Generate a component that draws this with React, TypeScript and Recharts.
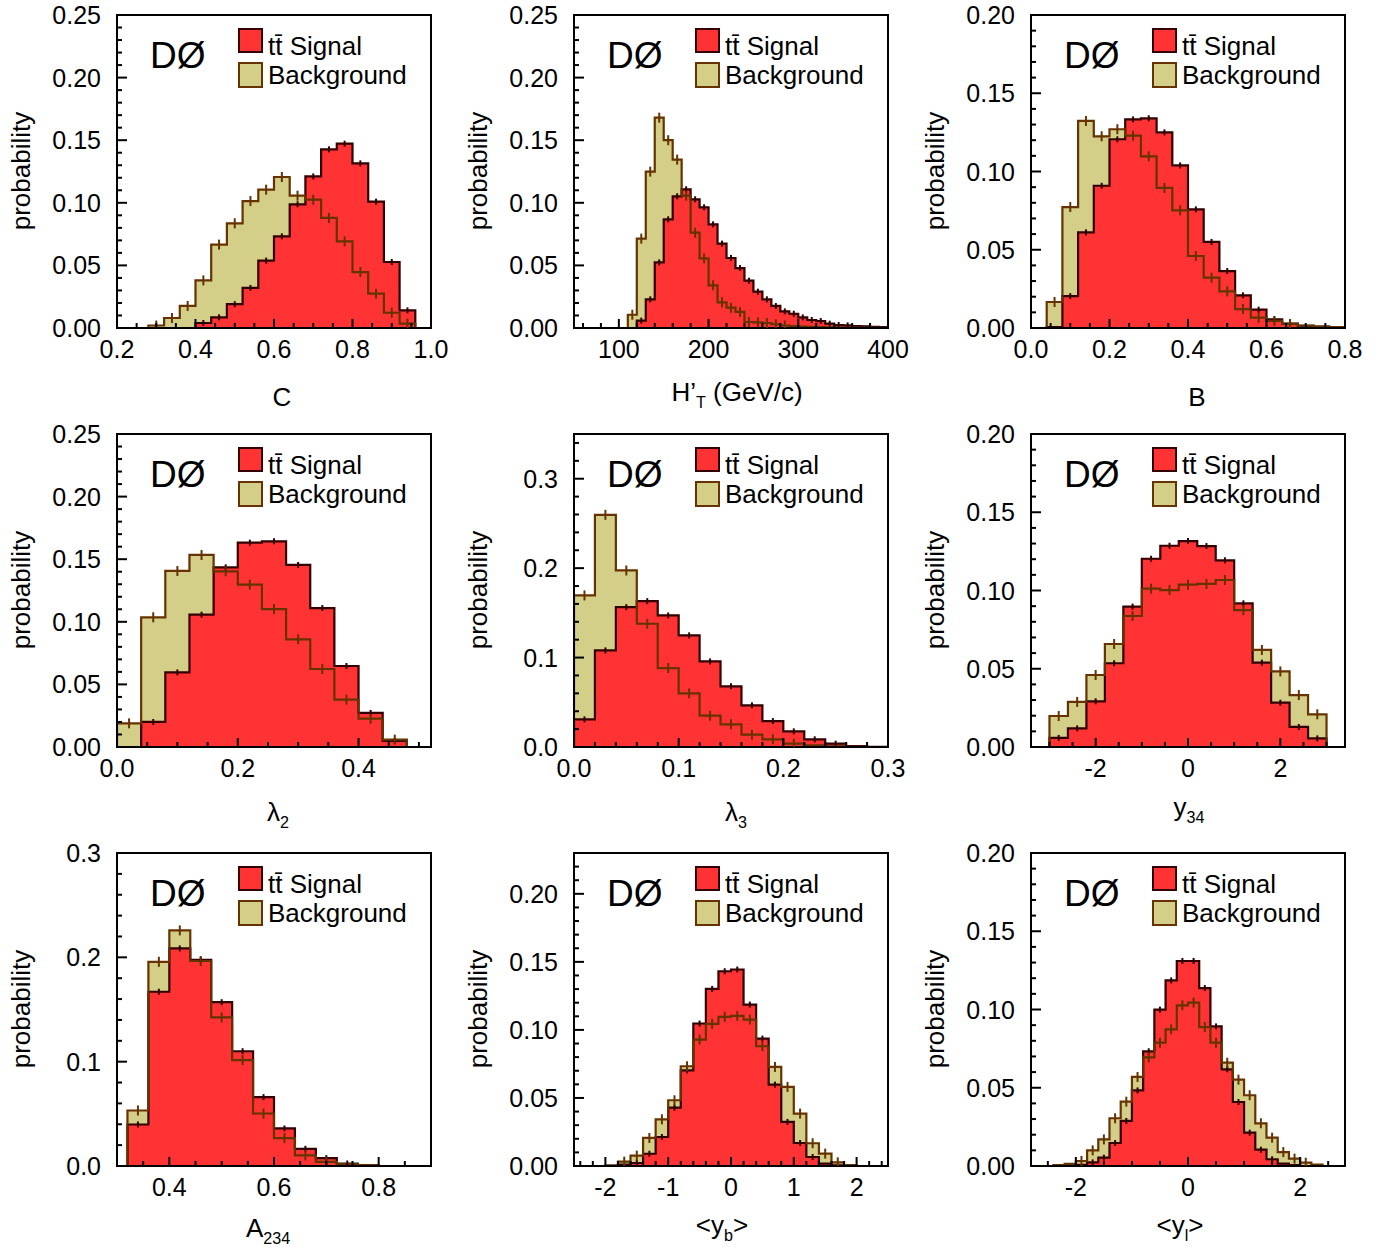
import { ComposedChart, Area, Line, Scatter, XAxis, YAxis, ReferenceArea } from "recharts";
import type { ReactNode } from "react";

const FONT = '"Liberation Sans", Arial, Helvetica, sans-serif';
const RED = "#ff3333";
const KHAKI = "#d4cf88";
const BROWN = "#663300";
const DARK = "#330000";

// C
const cSignal = [0, 0, 0, 0, 0, 0.004, 0.0085, 0.019, 0.032, 0.0538, 0.0732, 0.0988, 0.1211, 0.1427, 0.1472, 0.1315, 0.1009, 0.0527, 0.0141, 0];
const cBackground = [0, 0, 0.002, 0.008, 0.0176, 0.038, 0.0666, 0.0836, 0.1014, 0.1105, 0.1206, 0.1057, 0.1025, 0.0879, 0.0692, 0.0447, 0.0274, 0.0122, 0.0035, 0];
// H'T
const htSignal = [0, 0.0059, 0.0229, 0.0524, 0.0868, 0.1052, 0.1108, 0.1028, 0.0964, 0.0828, 0.0674, 0.0559, 0.0479, 0.0378, 0.029, 0.0229, 0.0176, 0.0133, 0.0114, 0.0085, 0.0064, 0.0056, 0.0035, 0.0024, 0.0021, 0.0016, 0.0013, 0.001, 0.0008];
const htBackground = [0.0106, 0.0714, 0.1249, 0.168, 0.15, 0.1345, 0.1057, 0.0761, 0.0556, 0.0341, 0.0205, 0.0162, 0.0128, 0.0048, 0.0045, 0.004, 0.003, 0.002, 0.0015, 0.0012, 0.001, 0.0008, 0.0006, 0.0005, 0.0004, 0.0003, 0.0002, 0.0002, 0.0001];
// B
const bSignal = [0, 0.0005, 0.0204, 0.0611, 0.0909, 0.1206, 0.1333, 0.134, 0.125, 0.1039, 0.0758, 0.055, 0.0364, 0.0209, 0.0117, 0.0055, 0.0028, 0.0013, 0.0009, 0.0004];
const bBackground = [0, 0.0166, 0.0773, 0.1323, 0.1225, 0.127, 0.1229, 0.1097, 0.0895, 0.0752, 0.046, 0.0322, 0.0234, 0.0121, 0.0066, 0.0045, 0.0026, 0.0015, 0.0009, 0.0006];
// lambda2
const l2Signal = [0, 0.02, 0.0596, 0.1057, 0.1435, 0.1632, 0.1643, 0.1454, 0.111, 0.0647, 0.0272, 0.0048, 0];
const l2Background = [0.0189, 0.1036, 0.1406, 0.1534, 0.1403, 0.1297, 0.1102, 0.086, 0.0623, 0.0378, 0.0226, 0.0059, 0];
// lambda3
const l3Signal = [0.0309, 0.108, 0.1564, 0.1631, 0.1471, 0.1248, 0.0957, 0.0678, 0.0466, 0.029, 0.0175, 0.0086, 0.0037, 0.0011, 0.0003];
const l3Background = [0.1695, 0.2596, 0.1974, 0.1378, 0.0883, 0.06, 0.035, 0.0253, 0.0138, 0.0086, 0.0037, 0.0019, 0.0007, 0.0002, 0];
// y34
const y34Signal = [0.0058, 0.0119, 0.0292, 0.0535, 0.0897, 0.1203, 0.1286, 0.1316, 0.1284, 0.1193, 0.0918, 0.0539, 0.0283, 0.0128, 0.0055];
const y34Background = [0.0198, 0.0288, 0.046, 0.0658, 0.0837, 0.1012, 0.1003, 0.1037, 0.1042, 0.1067, 0.0875, 0.062, 0.0483, 0.0332, 0.0209];
// A234
const aSignal = [0.0398, 0.167, 0.2085, 0.1975, 0.157, 0.11, 0.066, 0.036, 0.0165, 0.0075, 0.0024, 0.0008];
const aBackground = [0.0532, 0.1957, 0.2258, 0.1965, 0.1424, 0.1015, 0.0503, 0.0267, 0.0101, 0.004, 0.0018, 0.0008];
// <yb>
const ybSignal = [0, 0.001, 0.0022, 0.009, 0.0213, 0.0429, 0.0703, 0.1047, 0.1301, 0.1431, 0.1444, 0.1186, 0.0936, 0.0598, 0.0324, 0.0169, 0.0066, 0.0017, 0.0005, 0];
const ybBackground = [0.0005, 0.0032, 0.0076, 0.0206, 0.0343, 0.0483, 0.0733, 0.0929, 0.1044, 0.1096, 0.1103, 0.1076, 0.088, 0.0728, 0.0581, 0.0385, 0.0167, 0.0091, 0.0027, 0.0007];
// <yl>
const ylSignal = [0, 0, 0.0008, 0.0023, 0.0053, 0.0147, 0.0288, 0.0483, 0.0733, 0.0999, 0.1186, 0.131, 0.131, 0.1137, 0.0892, 0.0618, 0.0409, 0.0213, 0.0104, 0.0043, 0.0015, 0.0006, 0, 0];
const ylBackground = [0.0005, 0.0013, 0.0032, 0.01, 0.017, 0.0305, 0.0411, 0.0569, 0.0694, 0.0788, 0.0873, 0.1027, 0.1044, 0.0888, 0.0788, 0.066, 0.0552, 0.0452, 0.0273, 0.0181, 0.0089, 0.0047, 0.0021, 0.0009];

// labelled ticks
const cXLabels = [0.2, 0.4, 0.6, 0.8, 1.0];
const htXLabels = [100, 200, 300, 400];
const bXLabels = [0, 0.2, 0.4, 0.6, 0.8];
const l2XLabels = [0, 0.2, 0.4];
const l3XLabels = [0, 0.1, 0.2, 0.3];
const symXLabels = [-2, 0, 2];
const aXLabels = [0.4, 0.6, 0.8];
const ybXLabels = [-2, -1, 0, 1, 2];
const y25Labels = [0, 0.05, 0.1, 0.15, 0.2, 0.25];
const y20Labels = [0, 0.05, 0.1, 0.15, 0.2];
const y3Labels = [0, 0.1, 0.2, 0.3];

const steps = (from: number, to: number, step: number) => {
  const n = Math.round((to - from) / step);
  const out: number[] = [];
  for (let i = 0; i <= n; i++) out.push(Math.round((from + i * step) * 1e6) / 1e6);
  return out;
};

const isIn = (list: number[], v: number) => list.some((m) => Math.abs(m - v) < 1e-6);

const makeXTick = (labels: number[], digits: number) => (p: any) => {
  const v = p.payload.value;
  const major = isIn(labels, v);
  return (
    <g>
      <line x1={p.x} x2={p.x} y1={p.y} y2={p.y - (major ? 9 : 5)} stroke="#000" strokeWidth={2} />
      {major && (
        <text x={p.x} y={p.y + 30} textAnchor="middle" fontFamily={FONT} fontSize={25} fill="#000">
          {v.toFixed(digits)}
        </text>
      )}
    </g>
  );
};

const makeYTick = (labels: number[], digits: number) => (p: any) => {
  const v = p.payload.value;
  const major = isIn(labels, v);
  return (
    <g>
      <line x1={p.x} x2={p.x + (major ? 10 : 5)} y1={p.y} y2={p.y} stroke="#000" strokeWidth={2} />
      {major && (
        <text x={p.x - 16} y={p.y} dy="0.36em" textAnchor="end" fontFamily={FONT} fontSize={25} fill="#000">
          {v.toFixed(digits)}
        </text>
      )}
    </g>
  );
};

const errShape = (color: string, half: number) => (p: any) => {
  if (!p.payload || p.payload.y < 0.002) return <g />;
  return <line x1={p.cx} x2={p.cx} y1={p.cy - half} y2={p.cy + half} stroke={color} strokeWidth={2} />;
};

type PanelDef = {
  col: number;
  row: number;
  sig: number[];
  bg: number[];
  binStart: number;
  binWidth: number;
  xDomain: [number, number];
  xTicks: number[];
  xLabels: number[];
  xDigits: number;
  yMax: number;
  yTicks: number[];
  yLabels: number[];
  yDigits: number;
  title: ReactNode;
  titleX: number;
  titleY: number;
};

const sub = { fontSize: "0.62em" };

const panels: PanelDef[] = [
  { col: 0, row: 0, sig: cSignal, bg: cBackground, binStart: 0.2, binWidth: 0.04, xDomain: [0.2, 1.0], xTicks: steps(0.2, 1.0, 0.05), xLabels: cXLabels, xDigits: 1, yMax: 0.25, yTicks: steps(0, 0.25, 0.01), yLabels: y25Labels, yDigits: 2, title: <>C</>, titleX: 282, titleY: 397 },
  { col: 1, row: 0, sig: htSignal, bg: htBackground, binStart: 110, binWidth: 10, xDomain: [50, 400], xTicks: steps(60, 400, 20), xLabels: htXLabels, xDigits: 0, yMax: 0.25, yTicks: steps(0, 0.25, 0.01), yLabels: y25Labels, yDigits: 2, title: <>H’<sub style={sub}>T</sub> (GeV/c)</>, titleX: 280, titleY: 397 },
  { col: 2, row: 0, sig: bSignal, bg: bBackground, binStart: 0, binWidth: 0.04, xDomain: [0, 0.8], xTicks: steps(0, 0.8, 0.05), xLabels: bXLabels, xDigits: 1, yMax: 0.2, yTicks: steps(0, 0.2, 0.01), yLabels: y20Labels, yDigits: 2, title: <>B</>, titleX: 283, titleY: 397 },
  { col: 0, row: 1, sig: l2Signal, bg: l2Background, binStart: 0, binWidth: 0.04, xDomain: [0, 0.52], xTicks: steps(0, 0.5, 0.05), xLabels: l2XLabels, xDigits: 1, yMax: 0.25, yTicks: steps(0, 0.25, 0.01), yLabels: y25Labels, yDigits: 2, title: <>λ<sub style={sub}>2</sub></>, titleX: 278, titleY: 398 },
  { col: 1, row: 1, sig: l3Signal, bg: l3Background, binStart: 0, binWidth: 0.02, xDomain: [0, 0.3], xTicks: steps(0, 0.3, 0.02), xLabels: l3XLabels, xDigits: 1, yMax: 0.35, yTicks: steps(0, 0.34, 0.02), yLabels: y3Labels, yDigits: 1, title: <>λ<sub style={sub}>3</sub></>, titleX: 279, titleY: 398 },
  { col: 2, row: 1, sig: y34Signal, bg: y34Background, binStart: -3, binWidth: 0.4, xDomain: [-3.4, 3.4], xTicks: steps(-3, 3, 0.5), xLabels: symXLabels, xDigits: 0, yMax: 0.2, yTicks: steps(0, 0.2, 0.01), yLabels: y20Labels, yDigits: 2, title: <>y<sub style={sub}>34</sub></>, titleX: 275, titleY: 393 },
  { col: 0, row: 2, sig: aSignal, bg: aBackground, binStart: 0.32, binWidth: 0.04, xDomain: [0.3, 0.9], xTicks: steps(0.3, 0.9, 0.05), xLabels: aXLabels, xDigits: 1, yMax: 0.3, yTicks: steps(0, 0.3, 0.02), yLabels: y3Labels, yDigits: 1, title: <>A<sub style={sub}>234</sub></>, titleX: 268, titleY: 395 },
  { col: 1, row: 2, sig: ybSignal, bg: ybBackground, binStart: -2, binWidth: 0.2, xDomain: [-2.5, 2.5], xTicks: steps(-2.4, 2.4, 0.2), xLabels: ybXLabels, xDigits: 0, yMax: 0.23, yTicks: steps(0, 0.23, 0.01), yLabels: y20Labels, yDigits: 2, title: <>&lt;y<sub style={sub}>b</sub>&gt;</>, titleX: 265, titleY: 392 },
  { col: 2, row: 2, sig: ylSignal, bg: ylBackground, binStart: -2.4, binWidth: 0.2, xDomain: [-2.8, 2.8], xTicks: steps(-2.5, 2.5, 0.5), xLabels: symXLabels, xDigits: 0, yMax: 0.2, yTicks: steps(0, 0.2, 0.01), yLabels: y20Labels, yDigits: 2, title: <>&lt;y<sub style={sub}>l</sub>&gt;</>, titleX: 266, titleY: 392 },
];

const PW = 457;
const PH = 419;

function Panel({ p }: { p: PanelDef }) {
  const n = p.sig.length;
  const end = p.binStart + n * p.binWidth;
  const rows = [
    { x: p.binStart, sig: 0, bg: 0 },
    ...p.sig.map((s, i) => ({ x: p.binStart + i * p.binWidth, sig: s, bg: p.bg[i] })),
    { x: end, sig: 0, bg: 0 },
  ];
  const sigPts = p.sig.map((s, i) => ({ x: p.binStart + (i + 0.5) * p.binWidth, y: s }));
  const bgPts = p.bg.map((b, i) => ({ x: p.binStart + (i + 0.5) * p.binWidth, y: b }));

  return (
    <div style={{ position: "absolute", left: p.col * PW, top: p.row * PH, width: PW, height: PH }}>
      <ComposedChart width={PW} height={PH} data={rows} margin={{ top: 15, right: 26, left: 0, bottom: 0 }}>
        <Area dataKey="bg" type="stepAfter" fill={KHAKI} fillOpacity={1} stroke="none" dot={false} activeDot={false} isAnimationActive={false} />
        <Area dataKey="sig" type="stepAfter" fill={RED} fillOpacity={1} stroke={DARK} strokeWidth={2.2} dot={false} activeDot={false} isAnimationActive={false} />
        <Scatter data={sigPts} dataKey="y" shape={errShape(DARK, 3)} isAnimationActive={false} />
        <Line dataKey="bg" type="stepAfter" stroke={BROWN} strokeWidth={2.2} dot={false} activeDot={false} isAnimationActive={false} />
        <Scatter data={bgPts} dataKey="y" shape={errShape(BROWN, 5)} isAnimationActive={false} />
        <ReferenceArea x1={p.xDomain[0]} x2={p.xDomain[1]} y1={0} y2={p.yMax} fill="none" fillOpacity={0} stroke="#000" strokeWidth={2} ifOverflow="visible" />
        <XAxis dataKey="x" type="number" domain={p.xDomain} ticks={p.xTicks} interval={0} height={91} tickSize={0} tickMargin={0} axisLine={{ stroke: "#000", strokeWidth: 2 }} tickLine={false} tick={makeXTick(p.xLabels, p.xDigits)} allowDataOverflow />
        <YAxis type="number" domain={[0, p.yMax]} ticks={p.yTicks} interval={0} width={117} tickSize={0} tickMargin={0} axisLine={{ stroke: "#000", strokeWidth: 2 }} tickLine={false} tick={makeYTick(p.yLabels, p.yDigits)} allowDataOverflow />
      </ComposedChart>

      <div style={{ position: "absolute", left: 150, top: 35, fontFamily: FONT, fontSize: 37, lineHeight: "42px", color: "#000" }}>DØ</div>

      <div style={{ position: "absolute", left: 238, top: 28, width: 21, height: 21, background: RED, border: `2px solid ${DARK}` }} />
      <div style={{ position: "absolute", left: 238, top: 62, width: 21, height: 22, background: KHAKI, border: `2px solid ${BROWN}` }} />
      <div style={{ position: "absolute", left: 268, top: 31, fontFamily: FONT, fontSize: 26, lineHeight: "30px", whiteSpace: "nowrap", color: "#000" }}>tt̄ Signal</div>
      <div style={{ position: "absolute", left: 268, top: 60, fontFamily: FONT, fontSize: 26, lineHeight: "30px", whiteSpace: "nowrap", color: "#000" }}>Background</div>

      <div style={{ position: "absolute", left: 21, top: 171, transform: "translate(-50%, -50%) rotate(-90deg)", fontFamily: FONT, fontSize: 26, whiteSpace: "nowrap", color: "#000" }}>probability</div>

      <div style={{ position: "absolute", left: p.titleX, top: p.titleY, transform: "translate(-50%, -50%)", fontFamily: FONT, fontSize: 26, whiteSpace: "nowrap", color: "#000", lineHeight: "30px" }}>{p.title}</div>
    </div>
  );
}

export default function App() {
  return (
    <div style={{ position: "absolute", left: 0, top: 0, width: 1382, height: 1249, background: "#fff" }}>
      {panels.map((p, i) => (
        <Panel key={i} p={p} />
      ))}
    </div>
  );
}
